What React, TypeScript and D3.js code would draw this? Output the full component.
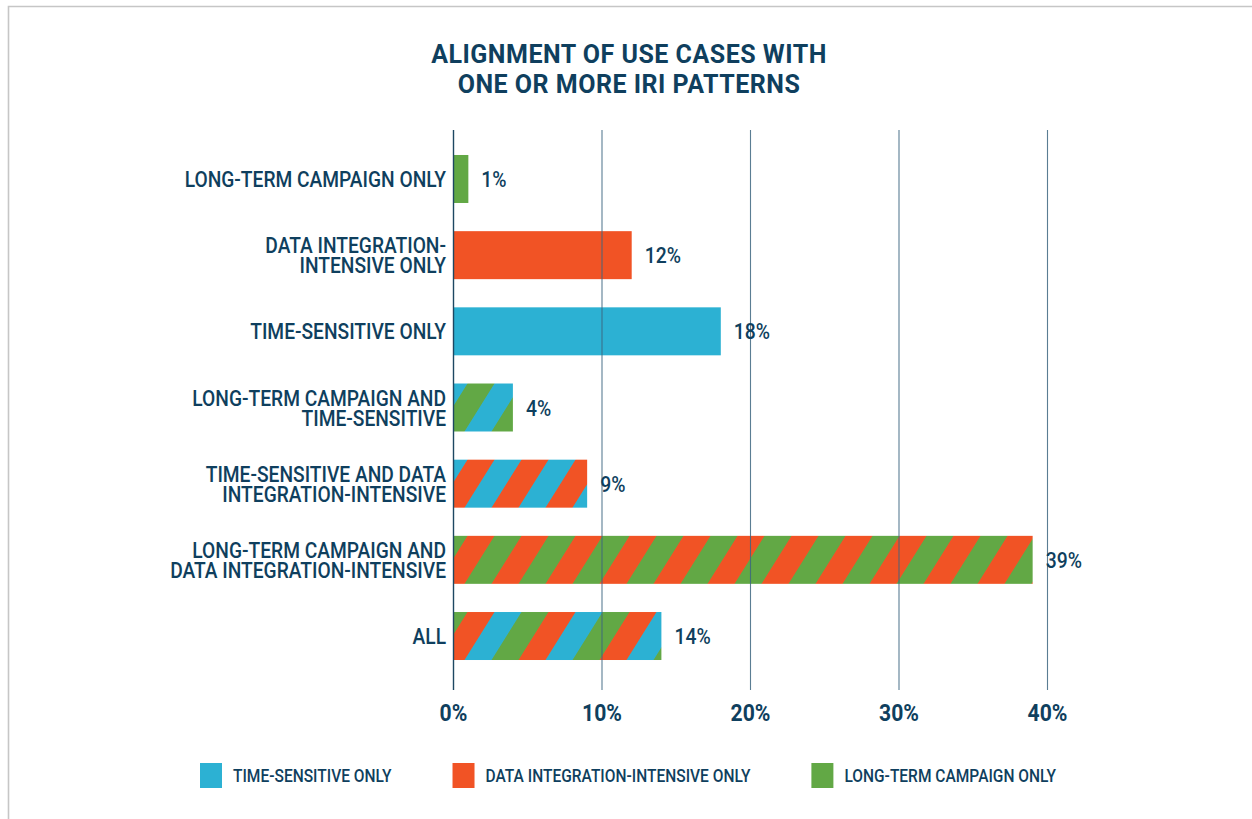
import React, { useLayoutEffect, useRef, useState } from "react";
import * as d3 from "d3";

const categoryLines: string[][] = [
  ["LONG-TERM CAMPAIGN ONLY"],
  ["DATA INTEGRATION-", "INTENSIVE ONLY"],
  ["TIME-SENSITIVE ONLY"],
  ["LONG-TERM CAMPAIGN AND", "TIME-SENSITIVE"],
  ["TIME-SENSITIVE AND DATA", "INTEGRATION-INTENSIVE"],
  ["LONG-TERM CAMPAIGN AND", "DATA INTEGRATION-INTENSIVE"],
  ["ALL"],
];
const values = [1, 12, 18, 4, 9, 39, 14];
const barSeries: string[][] = [
  ["long"],
  ["data"],
  ["time"],
  ["time", "long"],
  ["time", "data"],
  ["long", "data"],
  ["long", "data", "time"],
];
const tickValues = [0, 10, 20, 30, 40];
const legendKeys = ["time", "data", "long"];
const legendLabels = ["TIME-SENSITIVE ONLY", "DATA INTEGRATION-INTENSIVE ONLY", "LONG-TERM CAMPAIGN ONLY"];
const titleLines = ["ALIGNMENT OF USE CASES WITH", "ONE OR MORE IRI PATTERNS"];

const colors: Record<string, string> = {
  time: "#2cb1d3",
  data: "#f15325",
  long: "#62a845",
};
const navy = "#0f3f5e";
const FONT = "Roboto, 'Open Sans', sans-serif";
const COND = 0.853;
const LEG_COND = 0.84;

export default function App() {
  const W = 1252;
  const H = 819;
  const x = d3.scaleLinear().domain([0, 40]).range([453.5, 1047.5]);
  const y = d3
    .scaleBand<number>()
    .domain(values.map((_, i) => i))
    .range([140.9, 674.1])
    .paddingInner(0.37)
    .paddingOuter(0.185);
  const stripeW = 27;
  const skew = -32;
  const phase = -13;

  const legendRefs = useRef<(SVGTextElement | null)[]>([]);
  const [legendW, setLegendW] = useState<number[]>([160, 263, 215]);
  useLayoutEffect(() => {
    const ws = legendRefs.current.map((el) => (el ? el.getComputedTextLength() * LEG_COND : 0));
    if (ws.every((w) => w > 0)) setLegendW(ws);
  }, []);
  const swatchW = 22;
  const textGap = 11;
  const itemGap = 61;
  const legendPos: number[] = [];
  let cur = 200;
  legendKeys.forEach((_, i) => {
    legendPos.push(cur);
    cur += swatchW + textGap + legendW[i] + itemGap;
  });

  return (
    <div style={{ position: "absolute", left: 0, top: 0 }}>
      <svg width={W} height={H} style={{ display: "block" }}>
        <rect width={W} height={H} fill="#fff" />
        <path d={`M8.5,${H} V6.5 H${W}`} fill="none" stroke="#c6c6c6" strokeWidth={1.6} />
        <defs>
          {barSeries.map((s, i) =>
            s.length > 1 ? (
              <pattern
                key={i}
                id={`pat${i}`}
                patternUnits="userSpaceOnUse"
                width={stripeW * s.length}
                height={100}
                patternTransform={`translate(${x(0) + phase},${y(i)}) skewX(${skew})`}
              >
                {s.map((k, j) => (
                  <rect key={j} x={j * stripeW} y={0} width={stripeW + 0.3} height={100} fill={colors[k]} />
                ))}
              </pattern>
            ) : null
          )}
        </defs>
        {titleLines.map((t, i) => (
          <text
            key={i}
            x={629}
            y={63 + i * 30}
            textAnchor="middle"
            fontFamily={FONT}
            fontWeight={700}
            fontSize={25}
            letterSpacing={0.5}
            fill={navy}
          >
            {t}
          </text>
        ))}
        {values.map((v, i) => {
          const fill = barSeries[i].length > 1 ? `url(#pat${i})` : colors[barSeries[i][0]];
          return (
            <rect key={i} x={x(0)} y={y(i)} width={x(v) - x(0)} height={y.bandwidth()} fill={fill} />
          );
        })}
        {tickValues.map((t) => (
          <line
            key={t}
            x1={x(t)}
            x2={x(t)}
            y1={130}
            y2={690}
            stroke={t === 0 ? "#1d4862" : "#3d6680"}
            strokeOpacity={t === 0 ? 1 : 0.85}
            strokeWidth={t === 0 ? 1.4 : 1.1}
          />
        ))}
        {categoryLines.map((lines, i) => {
          const c = (y(i) as number) + y.bandwidth() / 2;
          const n = lines.length;
          const by0 = c + 8 - ((n - 1) / 2) * 20;
          return (
            <text
              key={i}
              transform={`translate(446,${by0}) scale(${COND},1)`}
              textAnchor="end"
              fontFamily={FONT}
              fontWeight={500}
              fontSize={22.5}
              fill={navy}
            >
              {lines.map((ln, j) => (
                <tspan key={j} x={0} dy={j === 0 ? 0 : 20}>
                  {ln}
                </tspan>
              ))}
            </text>
          );
        })}
        {values.map((v, i) => {
          const c = (y(i) as number) + y.bandwidth() / 2;
          return (
            <text
              key={i}
              transform={`translate(${x(v) + 13},${c + 8}) scale(0.88,1)`}
              fontFamily={FONT}
              fontWeight={500}
              fontSize={22}
              fill={navy}
            >
              {`${v}%`}
            </text>
          );
        })}
        {tickValues.map((t) => (
          <text
            key={t}
            transform={`translate(${x(t)},${721}) scale(0.92,1)`}
            textAnchor="middle"
            fontFamily={FONT}
            fontWeight={700}
            fontSize={23}
            fill={navy}
          >
            {`${t}%`}
          </text>
        ))}
        {legendKeys.map((k, i) => (
          <g key={k} transform={`translate(${legendPos[i]},763)`}>
            <rect width={swatchW} height={25} fill={colors[k]} />
            <text
              ref={(el) => {
                legendRefs.current[i] = el;
              }}
              transform={`translate(${swatchW + textGap},19) scale(${LEG_COND},1)`}
              fontFamily={FONT}
              fontWeight={500}
              fontSize={18.5}
              fill={navy}
            >
              {legendLabels[i]}
            </text>
          </g>
        ))}
      </svg>
    </div>
  );
}
